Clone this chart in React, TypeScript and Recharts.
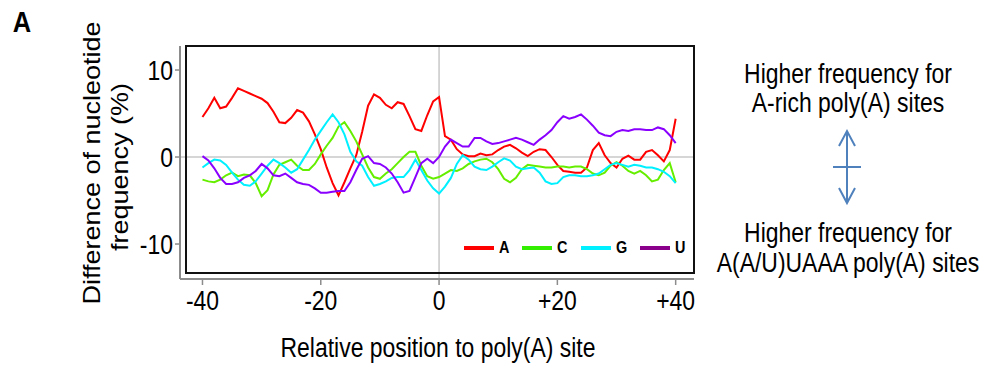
import { LineChart, Line, XAxis, YAxis, ReferenceLine, Legend } from "recharts";

const positions = [
  -40, -39, -38, -37, -36, -35, -34, -33, -32, -31, -30, -29, -28, -27, -26, -25, -24, -23, -22, -21,
  -20, -19, -18, -17, -16, -15, -14, -13, -12, -11, -10, -9, -8, -7, -6, -5, -4, -3, -2, -1,
  0, 1, 2, 3, 4, 5, 6, 7, 8, 9, 10, 11, 12, 13, 14, 15, 16, 17, 18, 19,
  20, 21, 22, 23, 24, 25, 26, 27, 28, 29, 30, 31, 32, 33, 34, 35, 36, 37, 38, 39, 40,
];

// difference of nucleotide frequency (%)
const freqA = [
  4.6, 5.6, 6.8, 5.6, 5.8, 6.8, 7.9, 7.6, 7.3, 7.0, 6.7, 6.2, 5.2, 4.0, 3.9, 4.5, 5.4, 5.1, 4.1, 2.6,
  0.9, -1.2, -3.0, -4.4, -2.9, -1.3, 0.2, 2.9, 5.9, 7.2, 6.8, 6.0, 5.6, 6.3, 6.1, 4.7, 3.2, 3.0, 4.8, 6.4,
  6.9, 2.4, 2.0, 0.9, 0.3, 0.1, 0.1, 0.4, 0.2, 0.3, 0.8, 1.2, 1.4, 1.0, 0.5, 0.1, 0.6, 0.9, 0.8, 0.0,
  -0.9, -1.6, -1.7, -1.8, -1.8, -1.2, 0.8, 1.6, 0.2, -0.7, -1.2, -0.2, 0.15, -0.3, -0.3, 0.6, 0.8, 0.2, -0.5, 0.8, 4.4,
];
const freqC = [
  -2.6, -2.8, -2.9, -2.6, -2.1, -1.8, -2.2, -2.0, -2.1, -3.0, -4.5, -3.8, -2.0, -0.9, -0.6, -0.3, -1.0, -1.5, -1.5, -0.8,
  0.3, 1.3, 2.2, 3.5, 4.0, 3.0, 1.8, 0.3, -1.2, -2.3, -2.5, -1.9, -1.4, -0.7, 0.0, 0.6, 0.6, -1.0, -2.2, -2.5,
  -2.3, -1.9, -1.5, -1.6, -1.3, -0.8, -0.5, -0.3, -0.2, -0.6, -1.4, -2.5, -2.9, -2.4, -1.4, -0.9, -1.0, -1.1, -1.2, -1.2,
  -1.1, -1.1, -1.2, -1.1, -1.1, -1.4, -1.9, -2.1, -1.8, -1.0, -0.6, -1.0, -1.6, -1.9, -1.6, -2.1, -2.8, -2.6, -1.5, -0.7, -2.9,
];
const freqG = [
  -1.2, -0.7, -0.3, -0.4, -0.9, -1.8, -2.6, -3.2, -3.3, -2.8, -1.9, -1.0, -0.3, -0.7, -1.2, -1.8, -1.4, -0.3, 0.8, 2.0,
  3.0, 4.0, 4.9, 4.0, 2.6, 0.6, -0.5, -1.0, -2.3, -3.3, -3.1, -2.8, -2.4, -2.3, -2.3, -1.5, -0.3, -1.5, -2.7, -3.6,
  -4.2, -3.4, -2.4, -0.8, 0.2, -0.3, -1.1, -1.4, -1.5, -1.1, -0.6, -0.15, -0.4, -1.1, -1.4, -1.3, -1.2, -1.8, -2.8, -3.1,
  -3.0, -2.3, -2.1, -2.1, -2.2, -2.2, -2.1, -1.9, -1.4, -0.9, -0.7, -0.9, -1.1, -0.9, -1.0, -1.2, -1.2, -1.4, -1.7, -2.2, -3.0,
];
const freqU = [
  0.1, -0.4, -1.3, -2.4, -3.1, -3.1, -2.9, -2.4, -2.1, -1.6, -0.8, -1.3, -2.1, -2.2, -1.9, -2.4, -2.9, -3.1, -3.2, -3.6,
  -4.1, -4.1, -4.0, -3.9, -3.9, -2.9, -1.5, -0.2, 0.1, -0.7, -0.8, -1.2, -1.9, -2.9, -4.1, -3.9, -2.3, -0.7, -0.2, -0.7,
  0.0, 1.2, 2.0, 1.6, 1.2, 1.2, 2.2, 2.2, 1.8, 1.5, 1.6, 1.8, 2.0, 2.2, 2.0, 1.7, 1.4, 2.0, 2.5, 3.1,
  4.0, 4.7, 4.4, 4.6, 4.9, 4.3, 3.6, 2.8, 2.5, 2.4, 2.9, 3.1, 3.0, 3.2, 3.2, 3.1, 3.1, 3.4, 3.2, 2.5, 1.6,
];

const xTicks = [-40, -20, 0, 20, 40];
const xTickLabels = ["-40", "-20", "0", "+20", "+40"];
const yTicks = [-10, 0, 10];

const data = positions.map((pos, i) => ({
  pos,
  A: freqA[i],
  C: freqC[i],
  G: freqG[i],
  U: freqU[i],
}));

const colors: Record<string, string> = {
  A: "#ff0000",
  C: "#66ee00",
  G: "#00f0ff",
  U: "#8a00ff",
};
const legendColors: Record<string, string> = {
  A: "#ff0000",
  C: "#33ee00",
  G: "#00f0ff",
  U: "#8b008b",
};

// no narrow font installed: squeeze Liberation Sans horizontally instead
const SANS = '"Liberation Sans", Arial, sans-serif';
const SQUEEZE = 0.85;
const AXIS_GRAY = "#8c8c8c";

const NarrowText = ({ x, y, anchor = "middle", size = 27, weight = 400, children }: any) => (
  <text
    transform={`translate(${x},${y}) scale(${SQUEEZE},1)`}
    textAnchor={anchor}
    fontFamily={SANS}
    fontSize={size}
    fontWeight={weight}
    fill="#000"
  >
    {children}
  </text>
);

const XTick = (props: any) => {
  const { x, y, payload } = props;
  const i = xTicks.indexOf(payload.value);
  return (
    <NarrowText x={x} y={y + 19} size={27}>
      {i >= 0 ? xTickLabels[i] : String(payload.value)}
    </NarrowText>
  );
};

const YTick = (props: any) => {
  const { x, y, payload } = props;
  return (
    <NarrowText x={x} y={y + 9.5} anchor="end" size={27}>
      {String(payload.value)}
    </NarrowText>
  );
};

const renderLegend = (props: any) => {
  const { payload } = props;
  return (
    <div style={{ display: "flex", alignItems: "center" }}>
      {payload.map((entry: any) => (
        <div
          key={entry.value}
          style={{ display: "flex", alignItems: "center", marginRight: 12 }}
        >
          <div
            style={{
              width: 30,
              height: 4,
              background: legendColors[entry.value] ?? entry.color,
            }}
          />
          <span
            style={{
              marginLeft: 4,
              fontFamily: SANS,
              fontWeight: 700,
              fontSize: 17,
              color: "#000",
              display: "inline-block",
              transform: `scaleX(${SQUEEZE})`,
            }}
          >
            {entry.value}
          </span>
        </div>
      ))}
    </div>
  );
};

export default function App() {
  return (
    <div
      style={{
        position: "absolute",
        left: 0,
        top: 0,
        width: 985,
        height: 371,
        background: "#fff",
      }}
    >
      <LineChart
        width={985}
        height={371}
        data={data}
        margin={{ top: 46, right: 291, bottom: 12, left: 120 }}
      >
        <XAxis
          dataKey="pos"
          type="number"
          domain={[-43.8, 43.1]}
          ticks={xTicks}
          allowDataOverflow
          height={80}
          axisLine={{ stroke: AXIS_GRAY, strokeWidth: 2 }}
          tickLine={{ stroke: AXIS_GRAY, strokeWidth: 1.5 }}
          tickSize={6}
          tickMargin={6}
          tick={<XTick />}
        />
        <YAxis
          type="number"
          domain={[-14.02, 12.76]}
          ticks={yTicks}
          allowDataOverflow
          width={60}
          axisLine={{ stroke: AXIS_GRAY, strokeWidth: 2 }}
          tickLine={{ stroke: AXIS_GRAY, strokeWidth: 1.5 }}
          tickSize={5}
          tickMargin={2}
          tick={<YTick />}
        />
        <ReferenceLine y={0} stroke="#c8c8c8" strokeWidth={1.5} />
        <ReferenceLine x={0} stroke="#c8c8c8" strokeWidth={1.5} />
        <Legend
          content={renderLegend}
          layout="horizontal"
          verticalAlign="middle"
          align="center"
          wrapperStyle={{ left: 464, top: 238, width: 230, height: 22 }}
        />
        {["A", "C", "G", "U"].map((key) => (
          <Line
            key={key}
            type="linear"
            dataKey={key}
            name={key}
            stroke={colors[key]}
            strokeWidth={2}
            dot={false}
            isAnimationActive={false}
          />
        ))}
      </LineChart>
      <svg
        width={985}
        height={371}
        style={{ position: "absolute", left: 0, top: 0, pointerEvents: "none" }}
      >
        <rect x={186} y={46} width={508} height={227} fill="none" stroke="#111" strokeWidth={2} />
        <NarrowText x={22} y={32} size={30} weight={700}>
          A
        </NarrowText>
        <text
          transform="translate(100,163) rotate(-90) scale(1,0.9)"
          textAnchor="middle"
          fontFamily={SANS}
          fontSize={27}
          fill="#000"
        >
          Difference of nucleotide
        </text>
        <text
          transform="translate(128,167) rotate(-90) scale(1,0.9)"
          textAnchor="middle"
          fontFamily={SANS}
          fontSize={27}
          fill="#000"
        >
          frequency (%)
        </text>
        <NarrowText x={438} y={357} size={27}>
          Relative position to poly(A) site
        </NarrowText>
        <NarrowText x={848} y={83} size={27}>
          Higher frequency for
        </NarrowText>
        <NarrowText x={848} y={112} size={27}>
          A-rich poly(A) sites
        </NarrowText>
        <NarrowText x={848} y={242} size={27}>
          Higher frequency for
        </NarrowText>
        <NarrowText x={848} y={272} size={27}>
          A(A/U)UAAA poly(A) sites
        </NarrowText>
        <g stroke="#4f81bd" strokeWidth={2} fill="none">
          <line x1={847} y1={131} x2={847} y2={203} />
          <polyline points="839,146 847,131 855,146" />
          <polyline points="839,188 847,203 855,188" />
          <line x1={833} y1={167} x2={861} y2={167} />
        </g>
      </svg>
    </div>
  );
}
